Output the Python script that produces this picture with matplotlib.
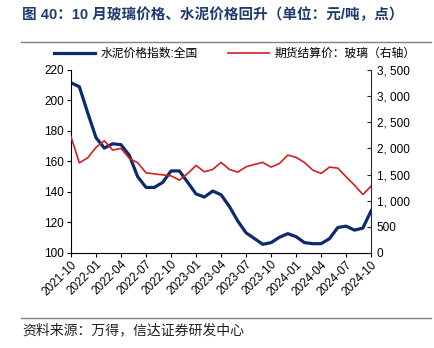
import matplotlib.pyplot as plt
from matplotlib.ticker import FuncFormatter

plt.rcParams['font.family'] = ['Liberation Sans', 'Noto Sans CJK SC', 'DejaVu Sans']

# monthly data, 2021-10 .. 2024-10
months = ['2021-10', '2021-11', '2021-12', '2022-01', '2022-02', '2022-03', '2022-04',
          '2022-05', '2022-06', '2022-07', '2022-08', '2022-09', '2022-10', '2022-11',
          '2022-12', '2023-01', '2023-02', '2023-03', '2023-04', '2023-05', '2023-06',
          '2023-07', '2023-08', '2023-09', '2023-10', '2023-11', '2023-12', '2024-01',
          '2024-02', '2024-03', '2024-04', '2024-05', '2024-06', '2024-07', '2024-08',
          '2024-09', '2024-10']
cement = [211.6, 209.0, 192.0, 175.6, 168.8, 171.6, 171.0, 164.0, 150.0, 143.0, 143.0,
          146.3, 153.8, 153.8, 146.3, 138.7, 136.7, 140.6, 138.2, 130.5, 121.0, 113.2,
          109.5, 105.7, 106.8, 110.3, 112.7, 110.7, 106.8, 106.1, 106.1, 109.4, 116.7,
          117.6, 115.0, 116.3, 127.7]
glass = [2222, 1724, 1820, 2019, 2146, 1967, 2000, 1808, 1724, 1533, 1513, 1494, 1475,
         1393, 1521, 1674, 1552, 1598, 1732, 1598, 1546, 1648, 1693, 1732, 1642, 1712,
         1872, 1828, 1732, 1584, 1521, 1642, 1623, 1456, 1297, 1119, 1278]

navy = '#0d2a6c'
red = '#d2201f'

fig = plt.figure(figsize=(4.35, 3.48), dpi=100)
ax = fig.add_axes([0.1632, 0.273, 0.69, 0.526])
ax2 = ax.twinx()

x = list(range(len(months)))
l1, = ax.plot(x, cement, color=navy, lw=2.3, label='水泥价格指数:全国')
l2, = ax2.plot(x, glass, color=red, lw=1.2, label='期货结算价：玻璃（右轴）')

ax.set_xlim(0, len(months) - 1)
ax.set_ylim(100, 220)
ax.set_yticks(range(100, 221, 20))
ax2.set_ylim(0, 3500)
ax2.set_yticks(range(0, 3501, 500))
ax2.yaxis.set_major_formatter(FuncFormatter(lambda v, p: f'{int(v):,}'.replace(',', ', ')))

ax.set_xticks(x[::3])
ax.set_xticklabels(months[::3], rotation=45, ha='right', rotation_mode='anchor')

for a in (ax, ax2):
    a.spines['top'].set_visible(False)
ax2.spines['left'].set_visible(False)
ax2.spines['bottom'].set_visible(False)
ax.spines['right'].set_visible(False)
ax2.spines['right'].set_color(navy)
ax.tick_params(axis='both', labelsize=8.5, length=3, width=0.8, pad=2)
ax.tick_params(axis='x', pad=1)
ax2.tick_params(axis='y', labelsize=8.5, direction='in', length=3, color=navy, pad=4)

fig.legend(handles=[l1, l2], loc='center', bbox_to_anchor=(0.54, 0.845), ncol=2,
           frameon=False, fontsize=8.5, handlelength=3.4, columnspacing=2.6,
           handletextpad=0.5)

fig.text(0.05, 0.957, '图 40：10 月玻璃价格、水泥价格回升（单位：元/吨，点）',
         fontsize=10.5, color='#1f3a6e', fontweight='bold', va='center')
fig.add_artist(plt.Line2D([0.048, 0.99], [0.878, 0.878], color='#808080', lw=1))
fig.add_artist(plt.Line2D([0.048, 0.99], [0.085, 0.085], color='#808080', lw=1))
fig.text(0.052, 0.05, '资料来源：万得，信达证券研发中心', fontsize=10,
         style='italic', va='center', color='#222222')

fig.savefig('out.png', dpi=100)
